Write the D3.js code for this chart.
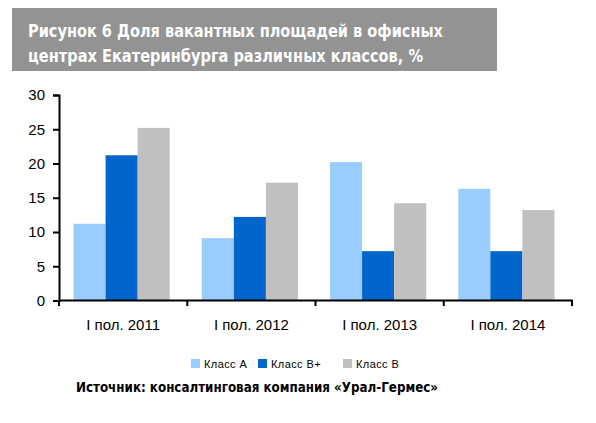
<!DOCTYPE html>
<html>
<head>
<meta charset="utf-8">
<script src="https://cdn.jsdelivr.net/npm/d3@7"></script>
<style>
  body { margin: 0; background: #fff; }
</style>
</head>
<body>
<svg width="596" height="423"></svg>
<script>
const categories = ["I пол. 2011", "I пол. 2012", "I пол. 2013", "I пол. 2014"];
const seriesNames = ["Класс А", "Класс В+", "Класс В"];
const seriesColors = ["#99ccff", "#0066cc", "#c0c0c0"];
const classA = [11.2, 9.1, 20.2, 16.3];
const classBplus = [21.2, 12.2, 7.2, 7.2];
const classB = [25.2, 17.2, 14.2, 13.2];
const yTicks = [0, 5, 10, 15, 20, 25, 30];
const titleLines = ["Рисунок 6 Доля вакантных площадей в офисных", "центрах Екатеринбурга различных классов, %"];
const sourceText = "Источник: консалтинговая компания «Урал-Гермес»";

const series = [classA, classBplus, classB];

const svg = d3.select("svg");

// title box
svg.append("rect")
    .attr("x", 12).attr("y", 8)
    .attr("width", 485).attr("height", 63)
    .attr("fill", "#939393");

const titleWidths = [415, 395];
titleLines.forEach((t, i) => {
    svg.append("text")
        .attr("x", 28)
        .attr("y", 37 + i * 25)
        .attr("fill", "#fff")
        .attr("font-family", "DejaVu Sans")
        .attr("font-weight", "bold")
        .attr("font-size", 17.5)
        .attr("textLength", titleWidths[i])
        .attr("lengthAdjust", "spacingAndGlyphs")
        .text(t);
});

// scales
const x = d3.scaleBand()
    .domain(categories)
    .range([59, 572])
    .paddingInner(0)
    .paddingOuter(0);

const x1 = d3.scaleBand()
    .domain(d3.range(series.length))
    .range([0, x.bandwidth()])
    .paddingOuter(0.5)
    .paddingInner(0);

const y = d3.scaleLinear()
    .domain([0, 30])
    .range([300.5, 95]);

// bars
const groups = svg.append("g")
    .selectAll("g")
    .data(categories)
    .enter()
    .append("g")
    .attr("transform", d => "translate(" + (x(d) - 1.5) + ",0)");

groups.selectAll("rect")
    .data((d, i) => series.map((s, k) => ({ k: k, v: s[i] })))
    .enter()
    .append("rect")
    .attr("x", d => x1(d.k))
    .attr("width", x1.bandwidth())
    .attr("y", d => y(d.v))
    .attr("height", d => y(0) - y(d.v))
    .attr("fill", d => seriesColors[d.k]);

// y axis
const yAxis = svg.append("g")
    .attr("transform", "translate(59,0)")
    .call(d3.axisLeft(y).tickValues(yTicks).tickSize(6).tickPadding(8));
yAxis.select(".domain").attr("stroke", "#000").attr("stroke-width", 2);
yAxis.selectAll(".tick line").attr("stroke", "#000").attr("stroke-width", 2);
yAxis.selectAll(".tick text")
    .attr("font-family", "Liberation Sans, Arial")
    .attr("font-size", 15)
    .attr("fill", "#000");

// x axis
const xAxis = svg.append("g")
    .attr("transform", "translate(0,300)")
    .call(d3.axisBottom(x).tickSize(0).tickPadding(19));
xAxis.select(".domain").attr("stroke", "#000").attr("stroke-width", 2);
xAxis.selectAll(".tick text")
    .attr("font-family", "Liberation Sans, Arial")
    .attr("font-size", 15)
    .attr("fill", "#000");

// category boundary ticks
const boundaries = categories.map(c => x(c)).concat([x.range()[1]]);
svg.append("g")
    .selectAll("line")
    .data(boundaries)
    .enter()
    .append("line")
    .attr("x1", d => d).attr("x2", d => d)
    .attr("y1", 300).attr("y2", 306)
    .attr("stroke", "#000")
    .attr("stroke-width", 2);

// legend
const legendX = [191, 258, 343];
const legend = svg.append("g")
    .selectAll("g")
    .data(seriesNames)
    .enter()
    .append("g")
    .attr("transform", (d, i) => "translate(" + legendX[i] + ",359)");
legend.append("rect")
    .attr("width", 9).attr("height", 9)
    .attr("fill", (d, i) => seriesColors[i]);
legend.append("text")
    .attr("x", 13).attr("y", 9)
    .attr("font-family", "Liberation Sans, Arial")
    .attr("font-size", 11)
    .attr("letter-spacing", 0.4)
    .attr("fill", "#000")
    .text(d => d);

// source note
svg.append("text")
    .attr("x", 76).attr("y", 392)
    .attr("font-family", "DejaVu Sans")
    .attr("font-weight", "bold")
    .attr("font-size", 13.5)
    .attr("textLength", 362)
    .attr("lengthAdjust", "spacingAndGlyphs")
    .attr("fill", "#000")
    .text(sourceText);
</script>
</body>
</html>
